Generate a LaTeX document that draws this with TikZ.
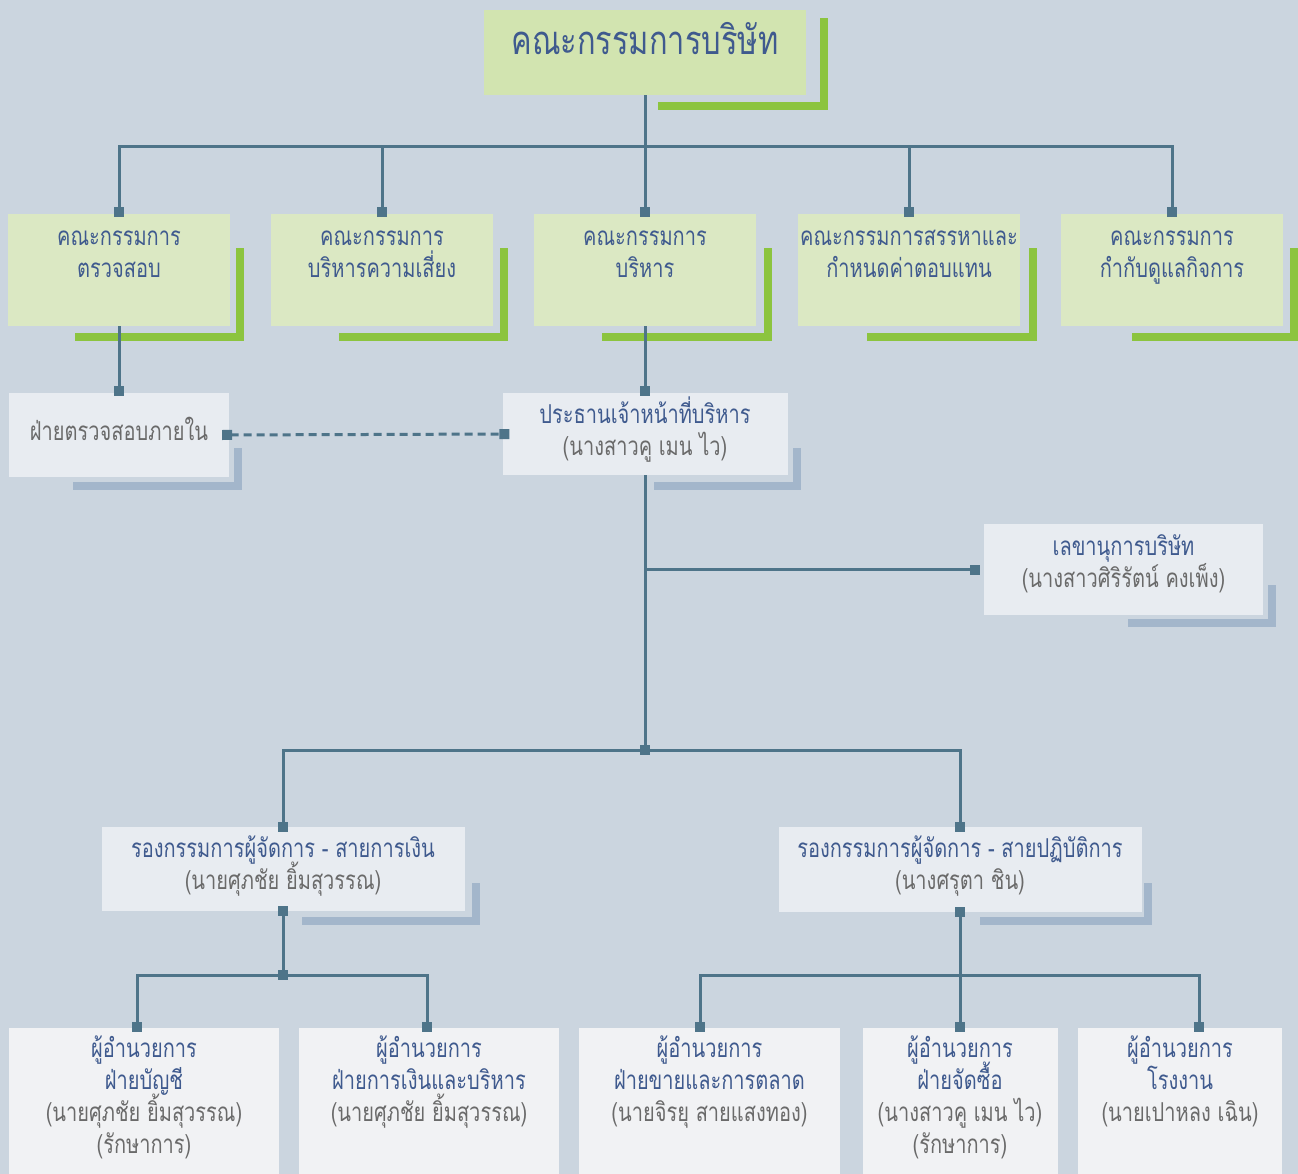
\documentclass[tikz,border=0pt]{standalone}
\usepackage{fontspec}
\setmainfont[Script=Thai, FakeStretch=0.77]{Loma}
\usetikzlibrary{arrows.meta}
\definecolor{bgc}{HTML}{CBD5DF}
\definecolor{topfill}{HTML}{D2E4B0}
\definecolor{comfill}{HTML}{DBE8C3}
\definecolor{greenbar}{HTML}{8CC43F}
\definecolor{linec}{HTML}{4E7489}
\definecolor{midfill}{HTML}{E8ECF1}
\definecolor{lowfill}{HTML}{F1F2F4}
\definecolor{greybar}{HTML}{A3B6CB}
\definecolor{bluetxt}{HTML}{3F5A8E}
\definecolor{greytxt}{HTML}{6A6A6A}
\newcommand\thsize{\fontsize{26}{32}\selectfont\lineskiplimit=-50pt}
\newcommand\gry[1]{\textcolor{greytxt}{#1}}
\begin{document}
\begin{tikzpicture}[x=1pt, y=-1pt,
	plain/.style={rectangle, inner sep=0pt},
	combox/.style={plain, fill=comfill, minimum width=222pt, minimum height=112pt},
	midbox/.style={plain, fill=midfill},
	lowbox/.style={plain, fill=lowfill, minimum height=180pt, anchor=north},
	thtext/.style={align=center, font=\thsize, text=bluetxt, inner sep=0pt, anchor=base},
	gshadow/.style={draw=greenbar, line width=8pt},
	bshadow/.style={draw=greybar, line width=8pt},
	conn/.style={draw=linec, line width=3pt},
	sqe/.style={-{Square[length=10pt,width=10pt]}},
	sqb/.style={{Square[length=10pt,width=10pt]}-{Square[length=10pt,width=10pt]}}]
	\useasboundingbox (0,0) rectangle (1298,1174);
	\clip (0,0) rectangle (1298,1174);
	\fill[bgc] (0,0) rectangle (1298,1174);
	\draw[gshadow] (658,106) -| (824,18);
	\draw[gshadow] (75,337) -| (240,248);
	\draw[gshadow] (339,337) -| (504,248);
	\draw[gshadow] (602,337) -| (768,248);
	\draw[gshadow] (867,337) -| (1033,248);
	\draw[gshadow] (1132,337) -| (1294,248);
	\draw[bshadow] (73,486) -| (238,448);
	\draw[bshadow] (654,486) -| (797,448);
	\draw[bshadow] (1128,623) -| (1271.5,585);
	\draw[bshadow] (302,921) -| (476,883);
	\draw[bshadow] (980,921) -| (1148,883);
	\node[plain, fill=topfill, minimum width=322pt, minimum height=85pt] (board) at (645,52.5) {};
	\node[combox] (c1) at (119,270) {};
	\node[combox] (c2) at (382,270) {};
	\node[combox] (c3) at (645,270) {};
	\node[combox] (c4) at (909,270) {};
	\node[combox] (c5) at (1172,270) {};
	\node[midbox, minimum width=220pt, minimum height=84pt] (audit) at (119,435) {};
	\node[midbox, minimum width=285pt, minimum height=82pt] (ceo) at (645,434) {};
	\node[midbox, minimum width=279pt, minimum height=91pt] (sec) at (1123.5,569.5) {};
	\node[midbox, minimum width=363pt, minimum height=84pt] (vpl) at (283,869) {};
	\node[midbox, minimum width=363pt, minimum height=85pt] (vpr) at (960,869.5) {};
	\node[lowbox, minimum width=270pt] (ba) at (144,1028) {};
	\node[lowbox, minimum width=260pt] (bb) at (429,1028) {};
	\node[lowbox, minimum width=261pt] (bc) at (709.5,1028) {};
	\node[lowbox, minimum width=195pt] (bd) at (960,1028) {};
	\node[lowbox, minimum width=204pt] (be) at (1180,1028) {};
	\node[thtext, font=\fontsize{40}{44}\selectfont] (boardt) at (645,55) {คณะกรรมการบริษัท};
	\node[thtext] (c1t) at (119,277) {คณะกรรมการ\\ตรวจสอบ};
	\node[thtext] (c2t) at (382,277) {คณะกรรมการ\\บริหารความเสี่ยง};
	\node[thtext] (c3t) at (645,277) {คณะกรรมการ\\บริหาร};
	\node[thtext] (c4t) at (909,277) {คณะกรรมการสรรหาและ\\กำหนดค่าตอบแทน};
	\node[thtext] (c5t) at (1172,277) {คณะกรรมการ\\กำกับดูแลกิจการ};
	\node[thtext, text=greytxt] (auditt) at (119,440) {ฝ่ายตรวจสอบภายใน};
	\node[thtext] (ceot) at (645,455) {ประธานเจ้าหน้าที่บริหาร\\\gry{(นางสาวคู เมน ไว)}};
	\node[thtext] (sect) at (1123.5,587) {เลขานุการบริษัท\\\gry{(นางสาวศิริรัตน์ คงเพ็ง)}};
	\node[thtext] (vplt) at (283,889) {รองกรรมการผู้จัดการ - สายการเงิน\\\gry{(นายศุภชัย ยิ้มสุวรรณ)}};
	\node[thtext] (vprt) at (960,889) {รองกรรมการผู้จัดการ - สายปฏิบัติการ\\\gry{(นางศรุตา ชิน)}};
	\node[thtext] (bat) at (144,1153) {ผู้อำนวยการ\\ฝ่ายบัญชี\\\gry{(นายศุภชัย ยิ้มสุวรรณ)}\\\gry{(รักษาการ)}};
	\node[thtext] (bbt) at (429,1121) {ผู้อำนวยการ\\ฝ่ายการเงินและบริหาร\\\gry{(นายศุภชัย ยิ้มสุวรรณ)}};
	\node[thtext] (bct) at (709.5,1121) {ผู้อำนวยการ\\ฝ่ายขายและการตลาด\\\gry{(นายจิรยุ สายแสงทอง)}};
	\node[thtext] (bdt) at (960,1153) {ผู้อำนวยการ\\ฝ่ายจัดซื้อ\\\gry{(นางสาวคู เมน ไว)}\\\gry{(รักษาการ)}};
	\node[thtext] (bet) at (1180,1121) {ผู้อำนวยการ\\โรงงาน\\\gry{(นายเปาหลง เฉิน)}};
	\coordinate (bus) at (645,147);
	\coordinate (hub) at (645,750);
	\coordinate (lhub) at (283,975);
	\coordinate (rhub) at (960,975);
	\draw[conn] (board) -- (bus);
	\draw[conn, sqe] (bus) -| ([yshift=-3pt]c1.north);
	\draw[conn, sqe] (bus) -| ([yshift=-3pt]c2.north);
	\draw[conn, sqe] (bus) -- ([yshift=-3pt]c3.north);
	\draw[conn, sqe] (bus) -| ([yshift=-3pt]c4.north);
	\draw[conn, sqe] (bus) -| ([yshift=-3pt]c5.north);
	\draw[conn, sqe] (c1) -- ([yshift=-3pt]audit.north);
	\draw[conn, sqe] (c3) -- ([yshift=-3pt]ceo.north);
	\draw[conn, sqb, dash pattern=on 8pt off 5pt] ([xshift=-7pt]audit.east) -- ([xshift=7pt]ceo.west);
	\draw[conn, sqe] (ceo) -- ([yshift=-5pt]hub);
	\draw[conn, sqe] (ceo.south |- sec.west) -- ([xshift=-4pt]sec.west);
	\draw[conn, sqe] (hub) -| ([yshift=-5pt]vpl.north);
	\draw[conn, sqe] (hub) -| ([yshift=-5pt]vpr.north);
	\draw[conn, sqb] ([yshift=5pt]vpl.south) -- ([yshift=-5pt]lhub);
	\draw[conn, sqe] (lhub) -| ([xshift=-7pt, yshift=-4pt]ba.north);
	\draw[conn, sqe] (lhub) -| ([xshift=-2pt, yshift=-4pt]bb.north);
	\draw[conn, sqb] ([yshift=5pt]vpr.south) -- ([yshift=-4pt]bd.north);
	\draw[conn, sqe] (rhub) -| ([xshift=-9.5pt, yshift=-4pt]bc.north);
	\draw[conn, sqe] (rhub) -| ([xshift=19pt, yshift=-4pt]be.north);
\end{tikzpicture}
\end{document}
